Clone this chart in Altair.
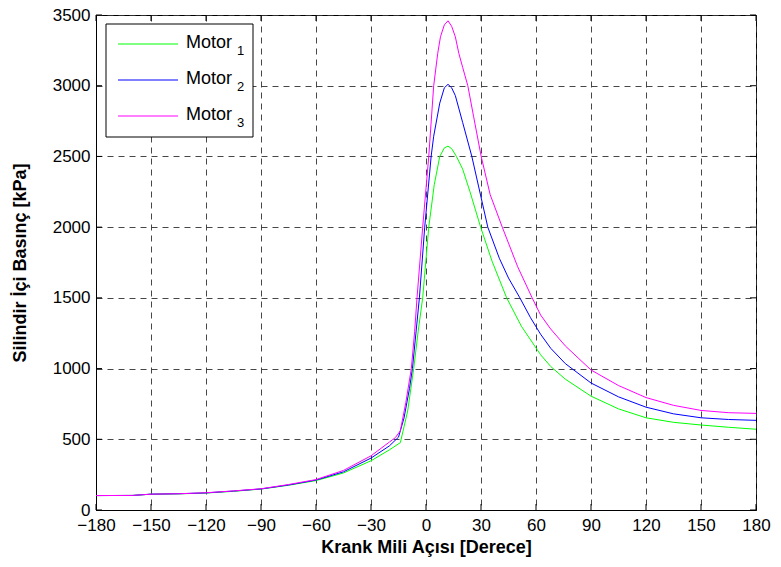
import altair as alt
import pandas as pd

# ---- data ----
series_names = ["Motor1", "Motor2", "Motor3"]
series_colors = ["#00ff00", "#0000ff", "#ff00ff"]
legend_subs = ["1", "2", "3"]

motor1_angle = [-180, -160, -150, -135, -120, -105, -90, -75, -60, -45, -30, -20, -14, -10, -6.7,
                -4.3, -1.8, 1.5, 4.5, 7.5, 10, 12, 14, 16.6, 20, 24, 29.8, 36, 44, 52, 62.5,
                68, 76, 90, 105, 120, 135, 150, 165, 180]
motor1_p = [102, 103, 112, 114, 120, 132, 148, 175, 208, 262, 348, 425, 476, 700, 1000,
            1261, 1500, 2000, 2300, 2500, 2560, 2573, 2555, 2500, 2410, 2250, 2000, 1760, 1500, 1300, 1098,
            1015, 925, 805, 715, 652, 620, 601, 585, 571]

motor2_angle = [-180, -160, -150, -135, -120, -105, -90, -75, -60, -45, -30, -20, -15, -12, -9,
                -7.4, -5.5, -3.6, -0.7, 2.8, 4.2, 7.5, 10, 12, 14, 16, 20, 25, 29, 33.7,
                40, 45, 51.2, 57, 62.5, 68, 76, 90, 105, 120, 135, 150, 165, 180]
motor2_p = [102, 103, 112, 115, 121, 134, 149, 177, 212, 270, 367, 453, 515, 650, 860,
            1000, 1250, 1500, 2000, 2500, 2643, 2877, 2985, 3010, 2985, 2930, 2740, 2500, 2270, 2000,
            1780, 1640, 1500, 1360, 1243, 1144, 1035, 898, 800, 727, 680, 652, 640, 634]

motor3_angle = [-180, -160, -150, -135, -120, -105, -90, -75, -60, -45, -30, -20, -16.7, -14, -11,
                -8, -6.2, -4.9, -1.8, 1.5, 4.2, 6.4, 7.9, 10, 12, 14, 16, 17.9, 20, 22.8, 26, 30.1,
                35, 41.6, 50, 57.9, 62.5, 68, 76, 90, 105, 120, 135, 150, 165, 180]
motor3_p = [102, 103, 112, 115, 122, 135, 150, 180, 215, 280, 383, 480, 512, 560, 760,
            1000, 1261, 1500, 2000, 2500, 3000, 3229, 3346, 3430, 3459, 3420, 3346, 3229, 3130, 3000, 2780, 2500,
            2230, 2000, 1720, 1500, 1379, 1280, 1160, 990, 880, 795, 740, 704, 688, 683]

x_ticks = [-180, -150, -120, -90, -60, -30, 0, 30, 60, 90, 120, 150, 180]
y_ticks = [0, 500, 1000, 1500, 2000, 2500, 3000, 3500]

x_title = "Krank Mili Açısı [Derece]"
y_title = "Silindir İçi Basınç [kPa]"

# ---- build table ----
rows = []
for name, angs, vals in zip(series_names,
                            [motor1_angle, motor2_angle, motor3_angle],
                            [motor1_p, motor2_p, motor3_p]):
    for a, v in zip(angs, vals):
        rows.append({"motor": name, "angle": a, "p": v})
df = pd.DataFrame(rows)

W, H = 660, 495
FONT = "Liberation Sans"
TICK = 6

xscale = alt.Scale(domain=[-180, 180], nice=False, zero=False)
yscale = alt.Scale(domain=[0, 3500], nice=False)

x_axis = alt.Axis(values=x_ticks, title=x_title, grid=True, ticks=False, labelFlush=False,
                  labelPadding=7, titleY=28, format="d")
y_axis = alt.Axis(values=y_ticks, title=y_title, grid=True, ticks=False, labelFlush=False,
                  labelPadding=6, titleX=-67, titleY=H / 2, format="d")

X = alt.X("angle:Q", scale=xscale, axis=x_axis)
Y = alt.Y("p:Q", scale=yscale, axis=y_axis)

layers = []
for i, name in enumerate(series_names):
    sub = df[df.motor == name]
    layers.append(
        alt.Chart(sub).mark_line(color=series_colors[i], strokeWidth=1).encode(
            x=X, y=Y, order="angle:Q"
        )
    )

# inward ticks (MATLAB style) on all four sides
xt = pd.DataFrame({"angle": x_ticks})
yt = pd.DataFrame({"p": y_ticks})
tick_layers = [
    alt.Chart(xt).mark_rule(color="black", strokeWidth=1).encode(
        x=X, y=alt.value(H), y2=alt.value(H - TICK)),
    alt.Chart(xt).mark_rule(color="black", strokeWidth=1).encode(
        x=X, y=alt.value(0), y2=alt.value(TICK)),
    alt.Chart(yt).mark_rule(color="black", strokeWidth=1).encode(
        y=Y, x=alt.value(0), x2=alt.value(TICK)),
    alt.Chart(yt).mark_rule(color="black", strokeWidth=1).encode(
        y=Y, x=alt.value(W), x2=alt.value(W - TICK)),
]

# custom legend with subscripts
one = pd.DataFrame({"k": [0]})
LX0, LX1, LY0, LY1 = 10, 157, 9, 122
legend_layers = [
    alt.Chart(one).mark_rect(fill="white", stroke="black", strokeWidth=1).encode(
        x=alt.value(LX0), x2=alt.value(LX1), y=alt.value(LY0), y2=alt.value(LY1))
]
for i, (col, s) in enumerate(zip(series_colors, legend_subs)):
    yy = 29 + 36 * i
    legend_layers.append(
        alt.Chart(one).mark_rule(color=col, strokeWidth=1).encode(
            x=alt.value(22), x2=alt.value(82), y=alt.value(yy)))
    legend_layers.append(
        alt.Chart(one).mark_text(text="Motor", font=FONT, fontSize=18, align="left",
                                 baseline="middle", color="black").encode(
            x=alt.value(90), y=alt.value(yy - 1)))
    legend_layers.append(
        alt.Chart(one).mark_text(text=s, font=FONT, fontSize=13, align="left",
                                 baseline="middle", color="black").encode(
            x=alt.value(141), y=alt.value(yy + 7)))

chart = alt.layer(*layers, *tick_layers, *legend_layers).properties(
    width=W, height=H,
    autosize=alt.AutoSizeParams(type="none"),
    padding={"left": 88, "top": 7, "right": 15, "bottom": 49},
    background="white",
).configure_view(
    stroke="black", strokeWidth=1
).configure_axis(
    labelFont=FONT, labelFontSize=17, labelColor="black",
    titleFont=FONT, titleFontSize=18, titleFontWeight="bold", titleColor="black",
    domainColor="black", domainWidth=1,
    gridColor="#333333", gridDash=[6, 5], gridWidth=1, gridOpacity=0.9,
)

chart.save("out.html", embed_options={"renderer": "svg", "actions": False})
